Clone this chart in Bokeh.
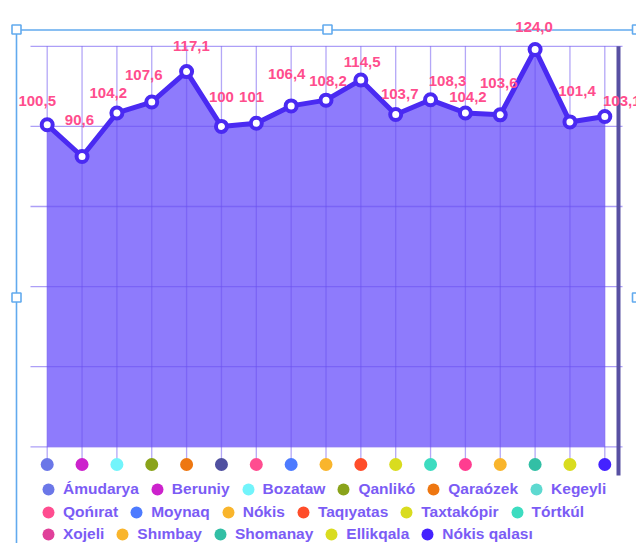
import numpy as np
from bokeh.plotting import figure
from bokeh.models import Range1d, ColumnDataSource, Legend, LegendItem
from bokeh.core.properties import value
from bokeh.embed import file_html
from bokeh.resources import INLINE

# ---------------- data ----------------
categories = ["Ámudarya", "Beruniy", "Bozataw", "Qanlikó", "Qaraózek", "Kegeyli",
              "Qońırat", "Moynaq", "Nókis", "Taqıyatas", "Taxtakópir", "Tórtkúl",
              "Xojeli", "Shımbay", "Shomanay", "Ellikqala", "Nókis qalası"]
values = [100.5, 90.6, 104.2, 107.6, 117.1, 100, 101, 106.4, 108.2, 114.5,
          103.7, 108.3, 104.2, 103.6, 124.0, 101.4, 103.1]
labels = ["100,5", "90,6", "104,2", "107,6", "117,1", "100", "101", "106,4", "108,2",
          "114,5", "103,7", "108,3", "104,2", "103,6", "124,0", "101,4", "103,1"]
dot_colors = ["#6b77e8", "#cc22cc", "#72f4fb", "#8aa31a", "#ee7711", "#5050a0",
              "#ff4d90", "#4d7bff", "#f9b52c", "#ff4d2a", "#d9dc1f", "#3ddcc0",
              "#ff3d90", "#f9b52c", "#32bfa5", "#d9dc1f", "#4422ff"]
legend_colors = ["#6b77e8", "#cc22cc", "#72f4fb", "#8aa31a", "#ee7711", "#5ed9d0",
                 "#ff4d90", "#4d7bff", "#f9b52c", "#ff4d2a", "#d9dc1f", "#3ddcc0",
                 "#e0409a", "#f9b52c", "#32bfa5", "#d9dc1f", "#4422ff"]
y_ticks = [0, 25, 50, 75, 100, 125]
legend_rows = [6, 6, 5]

# label placement offsets (screen px)
label_dx = [-10, -2.6, -8.6, -8, 4.8, 0, -4.7, -4.5, 2, 1.3, 4, 17, 2.5, -1.5, -1, 7, 17]
label_dy = [-24, -36.7, -20, -27, -26, -29.7, -26, -31.7, -19, -18, -21, -19, -15.7,
            -32, -23, -30.7, -15.7]

# ---------------- layout (page pixels) ----------------
W, H = 636, 543
X0, DXP = 46.7, 34.85     # x of first category, px per category
Y0, DYP = 446.3, 3.204    # y of value 0, px per unit


def dx(px):
    return (px - X0) / DXP


def dy(py):
    return (Y0 - py) / DYP


xs = list(range(len(categories)))

p = figure(width=W, height=H, output_backend="svg", toolbar_location=None,
           x_range=Range1d(dx(0), dx(W)), y_range=Range1d(dy(H), dy(0)),
           x_axis_location=None, y_axis_location=None, min_border=0)
p.grid.visible = False
p.outline_line_color = None
p.background_fill_color = "white"
p.border_fill_color = "white"

# selection frame (decoration)
sel_col = "#62aaee"
p.segment(x0=[dx(16), dx(16), dx(636.5)], y0=[dy(29.5), dy(29.5), dy(29.5)],
          x1=[dx(16), dx(636.5), dx(636.5)], y1=[dy(560), dy(29.5), dy(560)],
          line_color=sel_col, line_width=1.6)

# area
p.varea(x=xs, y1=[0] * len(xs), y2=values, fill_color="#8e7bfc", fill_alpha=1.0)

# grid lines
grid_col = "#6a50f0"
p.segment(x0=[dx(30)] * len(y_ticks), x1=[dx(622)] * len(y_ticks), y0=y_ticks, y1=y_ticks,
          line_color=grid_col, line_alpha=0.55, line_width=1.3)
p.segment(x0=xs, x1=xs, y0=[max(y_ticks)] * len(xs), y1=[dy(464)] * len(xs),
          line_color=grid_col, line_alpha=0.5, line_width=1.3)

# dark right bar
p.segment(x0=[dx(618)], x1=[dx(618)], y0=[max(y_ticks)], y1=[dy(475)],
          line_color="#5850a2", line_width=4)

# category dots
p.scatter(x=xs, y=[dy(464)] * len(xs), size=13, fill_color=dot_colors, line_color=None)

# line + markers
line_col = "#4a2af2"
p.line(x=xs, y=values, line_color=line_col, line_width=5)
p.scatter(x=xs, y=values, size=11, fill_color="white", line_color=line_col, line_width=4)

# value labels
src = ColumnDataSource(dict(x=xs, y=values, t=labels, dxo=label_dx, dyo=label_dy))
p.text(x="x", y="y", text="t", x_offset="dxo", y_offset="dyo", source=src,
       text_align="center", text_baseline="alphabetic", text_color="#ff4d8d",
       text_font=value("Liberation Sans"), text_font_style="bold", text_font_size="15px")

# selection handles
p.scatter(x=[dx(16), dx(327), dx(636.5), dx(16), dx(636.5)],
          y=[dy(29), dy(29), dy(29), dy(297), dy(297)],
          marker="square", size=9, fill_color="white", line_color=sel_col, line_width=1.6)

# legend glyph source (not drawn in the plot area: NaN coordinates)
nan = [float("nan")] * len(categories)
leg_src = ColumnDataSource(dict(x=nan, y=nan, c=legend_colors))
leg_r = p.scatter(x="x", y="y", size=12, fill_color="c", line_color=None, source=leg_src)

row_bottoms = [39, 16, -6]
start = 0
for n, yb in zip(legend_rows, row_bottoms):
    items = [LegendItem(label=categories[i], renderers=[leg_r], index=i)
             for i in range(start, start + n)]
    start += n
    lg = Legend(items=items, orientation="horizontal", location=(33, yb),
                glyph_width=30, glyph_height=30, label_standoff=0, spacing=3,
                padding=0, margin=0, border_line_color=None, background_fill_alpha=0,
                label_text_font="Liberation Sans", label_text_font_style="bold",
                label_text_font_size="15.5px", label_text_color="#7b5cf5",
                label_height=20)
    p.add_layout(lg)

open("out.html", "w").write(file_html(p, INLINE))
